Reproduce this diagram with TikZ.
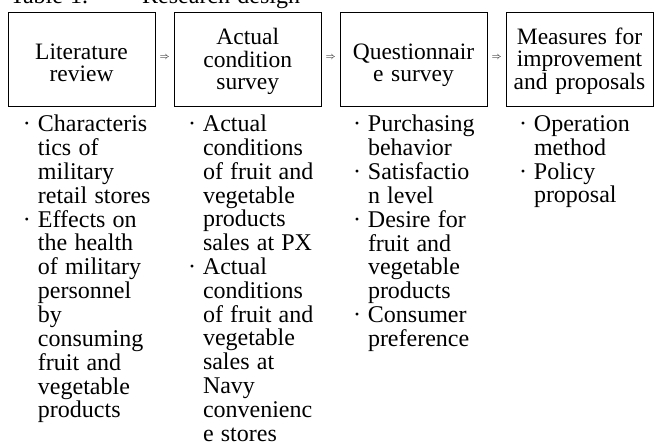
\documentclass[tikz,border=0pt]{standalone}
\usepackage{fontspec}
\setmainfont{Liberation Serif}
\usetikzlibrary{calc}
\newcommand{\boxfont}{\fontsize{23.5}{22.3}\selectfont\spaceskip=0.33em plus 0.1em\relax}
\newcommand{\listfont}{\fontsize{24}{23.75}\selectfont\spaceskip=0.3em plus 0.1em\relax}
\newcommand{\bul}{\makebox[15pt][l]{\textperiodcentered}}
\begin{document}
\begin{tikzpicture}[x=1pt,y=-1pt,
  every node/.style={inner sep=0pt,outer sep=0pt},
  box/.style={draw,line width=0.9pt,minimum width=147pt,minimum height=94pt},
  boxtext/.style={anchor=base,font=\boxfont},
  listtext/.style={anchor=base west,font=\listfont},
  arrowmark/.style={font=\fontsize{10}{12}\selectfont}]
\clip (0,0) rectangle (657,443);
\useasboundingbox (0,0) rectangle (657,443);
% title (cut off at the top)
\node[anchor=base west,font=\listfont] (title1) at (10,4) {Table 1.};
\node[anchor=base east,font=\listfont] (title2) at (300,4) {Research design};
% boxes
\node[box] (b1) at (81.5,59) {};
\node[box] (b2) at (247.8,59) {};
\node[box] (b3) at (413.5,59) {};
\node[box] (b4) at (579.5,59) {};
% box texts
\node[boxtext] (t1) at (81.5,59.7) {\begin{tabular}[t]{@{}c@{}}Literature\\review\end{tabular}};
\node[boxtext] (t2) at (247.8,44.7) {\begin{tabular}[t]{@{}c@{}}Actual\\condition\\survey\end{tabular}};
\node[boxtext] (t3) at (413.5,59.7) {\begin{tabular}[t]{@{}c@{}}Questionnair\\e survey\end{tabular}};
\node[boxtext] (t4) at (579.5,44.7) {\begin{tabular}[t]{@{}c@{}}Measures for\\improvement\\and proposals\end{tabular}};
% arrows between boxes
\node[arrowmark] (a1) at ($(b1.east)!0.5!(b2.west)+(0,-1)$) {$\Rightarrow$};
\node[arrowmark] (a2) at ($(b2.east)!0.5!(b3.west)+(0,-1)$) {$\Rightarrow$};
\node[arrowmark] (a3) at ($(b3.east)!0.5!(b4.west)+(0,-1)$) {$\Rightarrow$};
% lists
\node[listtext] (l1) at (23,131.5) {\begin{tabular}[t]{@{}l@{}l@{}}
\bul & Characteris\\
 & tics of\\
 & military\\
 & retail stores\\
\bul & Effects on\\
 & the health\\
 & of military\\
 & personnel\\
 & by\\
 & consuming\\
 & fruit and\\
 & vegetable\\
 & products
\end{tabular}};
\node[listtext] (l2) at (188,131.5) {\begin{tabular}[t]{@{}l@{}l@{}}
\bul & Actual\\
 & conditions\\
 & of fruit and\\
 & vegetable\\
 & products\\
 & sales at PX\\
\bul & Actual\\
 & conditions\\
 & of fruit and\\
 & vegetable\\
 & sales at\\
 & Navy\\
 & convenienc\\
 & e stores
\end{tabular}};
\node[listtext] (l3) at (353,131.5) {\begin{tabular}[t]{@{}l@{}l@{}}
\bul & Purchasing\\
 & behavior\\
\bul & Satisfactio\\
 & n level\\
\bul & Desire for\\
 & fruit and\\
 & vegetable\\
 & products\\
\bul & Consumer\\
 & preference
\end{tabular}};
\node[listtext] (l4) at (519,131.5) {\begin{tabular}[t]{@{}l@{}l@{}}
\bul & Operation\\
 & method\\
\bul & Policy\\
 & proposal
\end{tabular}};
\end{tikzpicture}
\end{document}
